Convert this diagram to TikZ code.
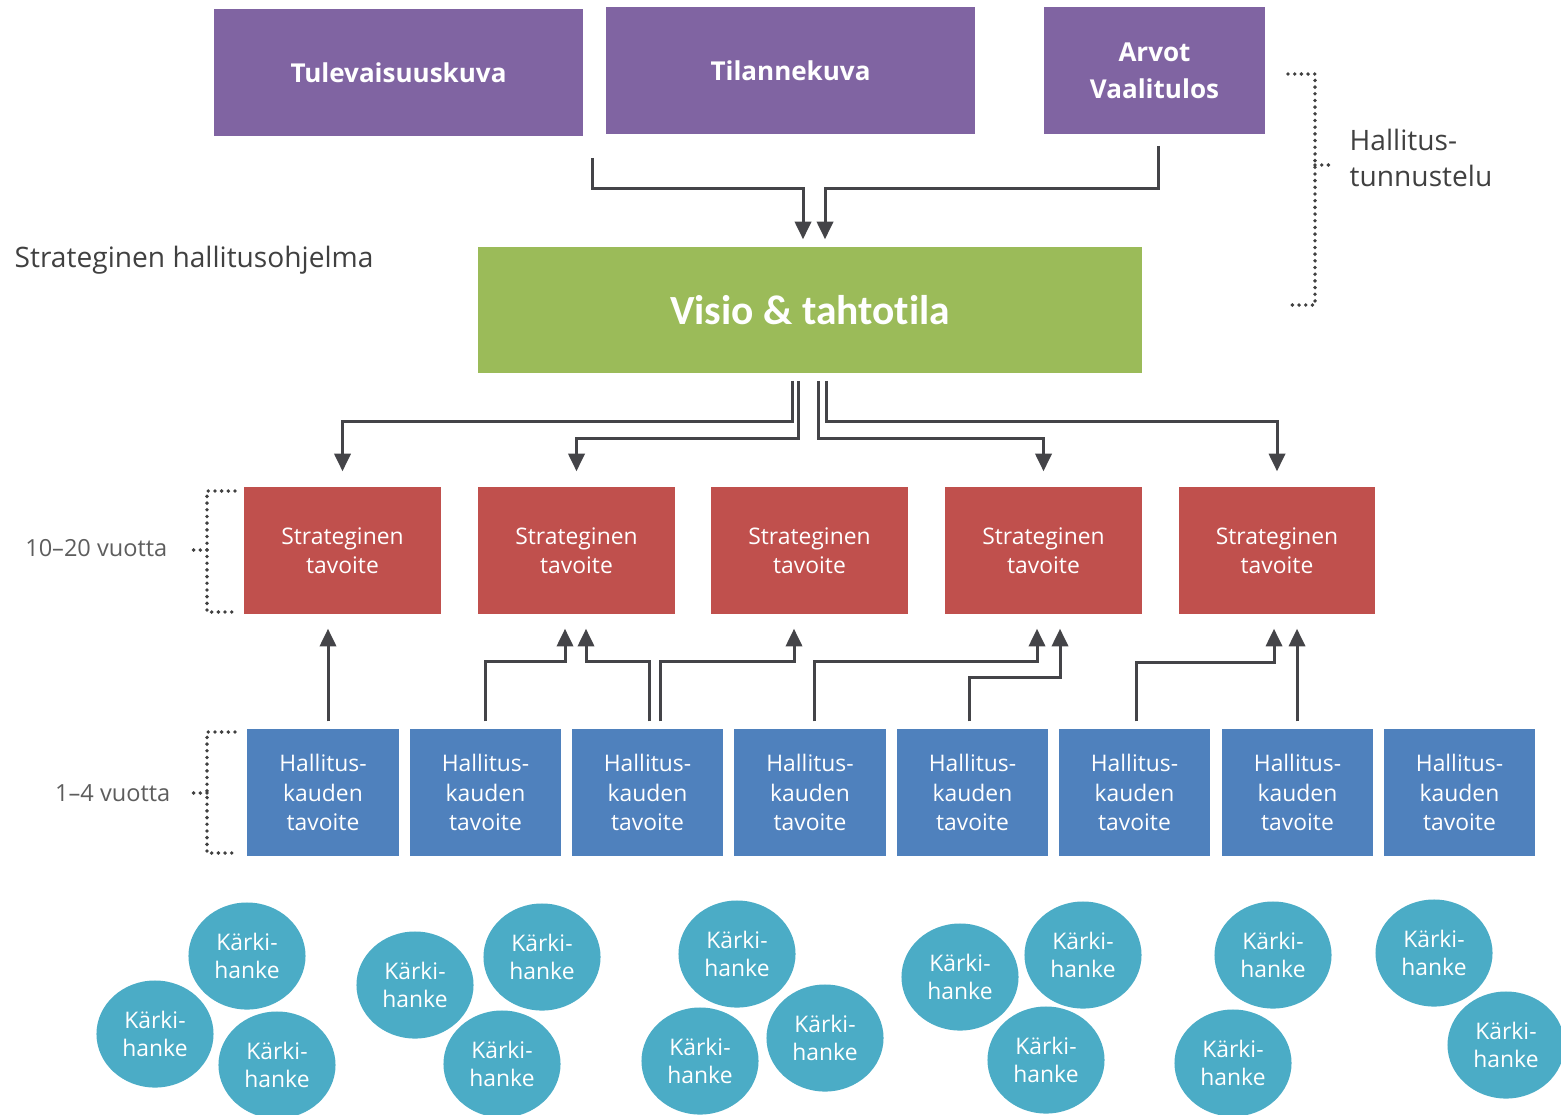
\documentclass[tikz,border=0pt]{standalone}
\usepackage{fontspec}
\setmainfont{Open Sans}
\newfontfamily\visiofont[Ligatures={NoCommon}]{Carlito}
\usetikzlibrary{positioning,calc,shapes.geometric,arrows.meta}
\definecolor{kuvapurple}{HTML}{8064A2}
\definecolor{visiogreen}{HTML}{9BBB59}
\definecolor{stratred}{HTML}{C0504D}
\definecolor{kausiblue}{HTML}{4F81BD}
\definecolor{karkiteal}{HTML}{4BACC6}
\definecolor{arrowgray}{HTML}{444448}
\definecolor{sidegray}{HTML}{404040}
\tikzset{
kuva/.style={fill=kuvapurple,text=white,font=\fontsize{7.4}{10.5}\selectfont\bfseries,align=center,minimum height=1.27cm,inner sep=0pt},
visio/.style={fill=visiogreen,text=white,font=\visiofont\fontsize{11.8}{14}\selectfont\bfseries,minimum width=6.64cm,minimum height=1.26cm,inner sep=0pt},
strat/.style={fill=stratred,text=white,font=\fontsize{6.5}{8.3}\selectfont,align=center,minimum width=1.96cm,minimum height=1.27cm,inner sep=0pt},
kausi/.style={fill=kausiblue,text=white,font=\fontsize{6.5}{8.4}\selectfont,align=center,minimum width=1.51cm,minimum height=1.27cm,inner sep=0pt},
karki/.style={ellipse,fill=karkiteal,text=white,font=\fontsize{6.5}{8.1}\selectfont,align=center,minimum width=1.17cm,minimum height=1.07cm,inner sep=0pt},
sidetext/.style={text=sidegray,font=\fontsize{8}{10}\selectfont,inner sep=0pt},
sidesmall/.style={text=sidegray!85,font=\fontsize{6.7}{8}\selectfont,inner sep=0pt},
flowarrow/.style={-{Triangle[length=5pt,width=4.6pt]},line width=0.85pt,arrowgray},
bracket/.style={sidegray,line width=1.1pt,dash pattern=on 0pt off 1.9pt,line cap=round}
}
\begin{document}
\begin{tikzpicture}[x=0.01cm,y=-0.01cm]
\useasboundingbox (0,0) rectangle (1561,1114);
\node[kuva,minimum width=3.69cm] (tulevaisuus) at (398.5,72.5) {Tulevaisuuskuva};
\node[kuva,minimum width=3.69cm] (tilanne) at (790.5,70.5) {Tilannekuva};
\node[kuva,minimum width=2.21cm] (arvot) at (1154.5,70.5) {Arvot\\Vaalitulos};
\node[visio] (visio) at (810,310) {Visio \& tahtotila};
\foreach \cx [count=\i] in {342.5,576.5,809.5,1043.5,1277}
  \node[strat] (st\i) at (\cx,550.5) {Strateginen\\tavoite};
\foreach \cx [count=\i] in {323,485.5,647.5,810,972.5,1134.5,1297.5,1459.5}
  \node[kausi] (hk\i) at (\cx,792.5) {Hallitus-\\kauden\\tavoite};
\foreach \cx/\cy [count=\i] in {247/956,155/1034,277/1065,415/985,542/957,502/1064,737/954,700/1061,825/1038,960/977,1083/955,1046/1060,1273/955,1233/1063,1434/953,1506/1045}
  \node[karki] (kh\i) at (\cx,\cy) {Kärki-\\hanke};
\node[sidetext,anchor=west] (ohjelma) at (14,260) {Strateginen hallitusohjelma};
\node[sidetext,anchor=west,align=left] (tunnustelu) at (1349,158) {Hallitus-\\tunnustelu};
\node[sidesmall,anchor=east] (pitka) at (168,548) {10–20 vuotta};
\node[sidesmall,anchor=east] (lyhyt) at (171,793) {1–4 vuotta};
\coordinate (s1) at ($(tilanne.south west)+(-13,23)$);
\coordinate (s3) at ($(arvot.south)+(3.5,11)$);
\draw[flowarrow] (s1) -- ++(0,31) -| ($(visio.north)+(-7,-7)$);
\draw[flowarrow] (s3) -- ++(0,43) -| ($(visio.north)+(15,-7)$);
\draw[flowarrow] ($(visio.south)+(-18,7)$) -- ++(0,41) -| ($(st1.north)+(0,-15)$);
\draw[flowarrow] ($(visio.south)+(-12,7)$) -- ++(0,58) -| ($(st2.north)+(0,-15)$);
\draw[flowarrow] ($(visio.south)+(8,7)$) -- ++(0,58) -| ($(st4.north)+(0,-15)$);
\draw[flowarrow] ($(visio.south)+(16,7)$) -- ++(0,41) -| ($(st5.north)+(0,-15)$);
\draw[flowarrow] ($(hk1.north)+(5,-7)$) -- ($(st1.south)+(-14.5,14)$);
\draw[flowarrow] ($(hk2.north)+(0,-7)$) -- ++(0,-60) -| ($(st2.south)+(-11.5,14)$);
\draw[flowarrow] ($(hk3.north)+(1.5,-7)$) -- ++(0,-60) -| ($(st2.south)+(9.5,14)$);
\draw[flowarrow] ($(hk3.north)+(12.5,-7)$) -- ++(0,-60) -| ($(st3.south)+(-15.5,14)$);
\draw[flowarrow] ($(hk4.north)+(4,-7)$) -- ++(0,-60) -| ($(st4.south)+(-6.5,14)$);
\draw[flowarrow] ($(hk5.north)+(-3.5,-7)$) -- ++(0,-44) -| ($(st4.south)+(16.5,14)$);
\draw[flowarrow] ($(hk6.north)+(1.5,-7)$) -- ++(0,-59) -| ($(st5.south)+(-3,14)$);
\draw[flowarrow] ($(hk7.north)+(-0.5,-7)$) -- ($(st5.south)+(20,14)$);
\draw[bracket] (1288,74) -| (1315,305) -- (1288,305);
\draw[bracket] (1315,165) -- (1329,165);
\draw[bracket] (235,491) -| (207,612) -- (235,612);
\draw[bracket] (207,550) -- (192,550);
\draw[bracket] (235,732) -| (207,853) -- (235,853);
\draw[bracket] (207,793) -- (192,793);
\end{tikzpicture}
\end{document}
